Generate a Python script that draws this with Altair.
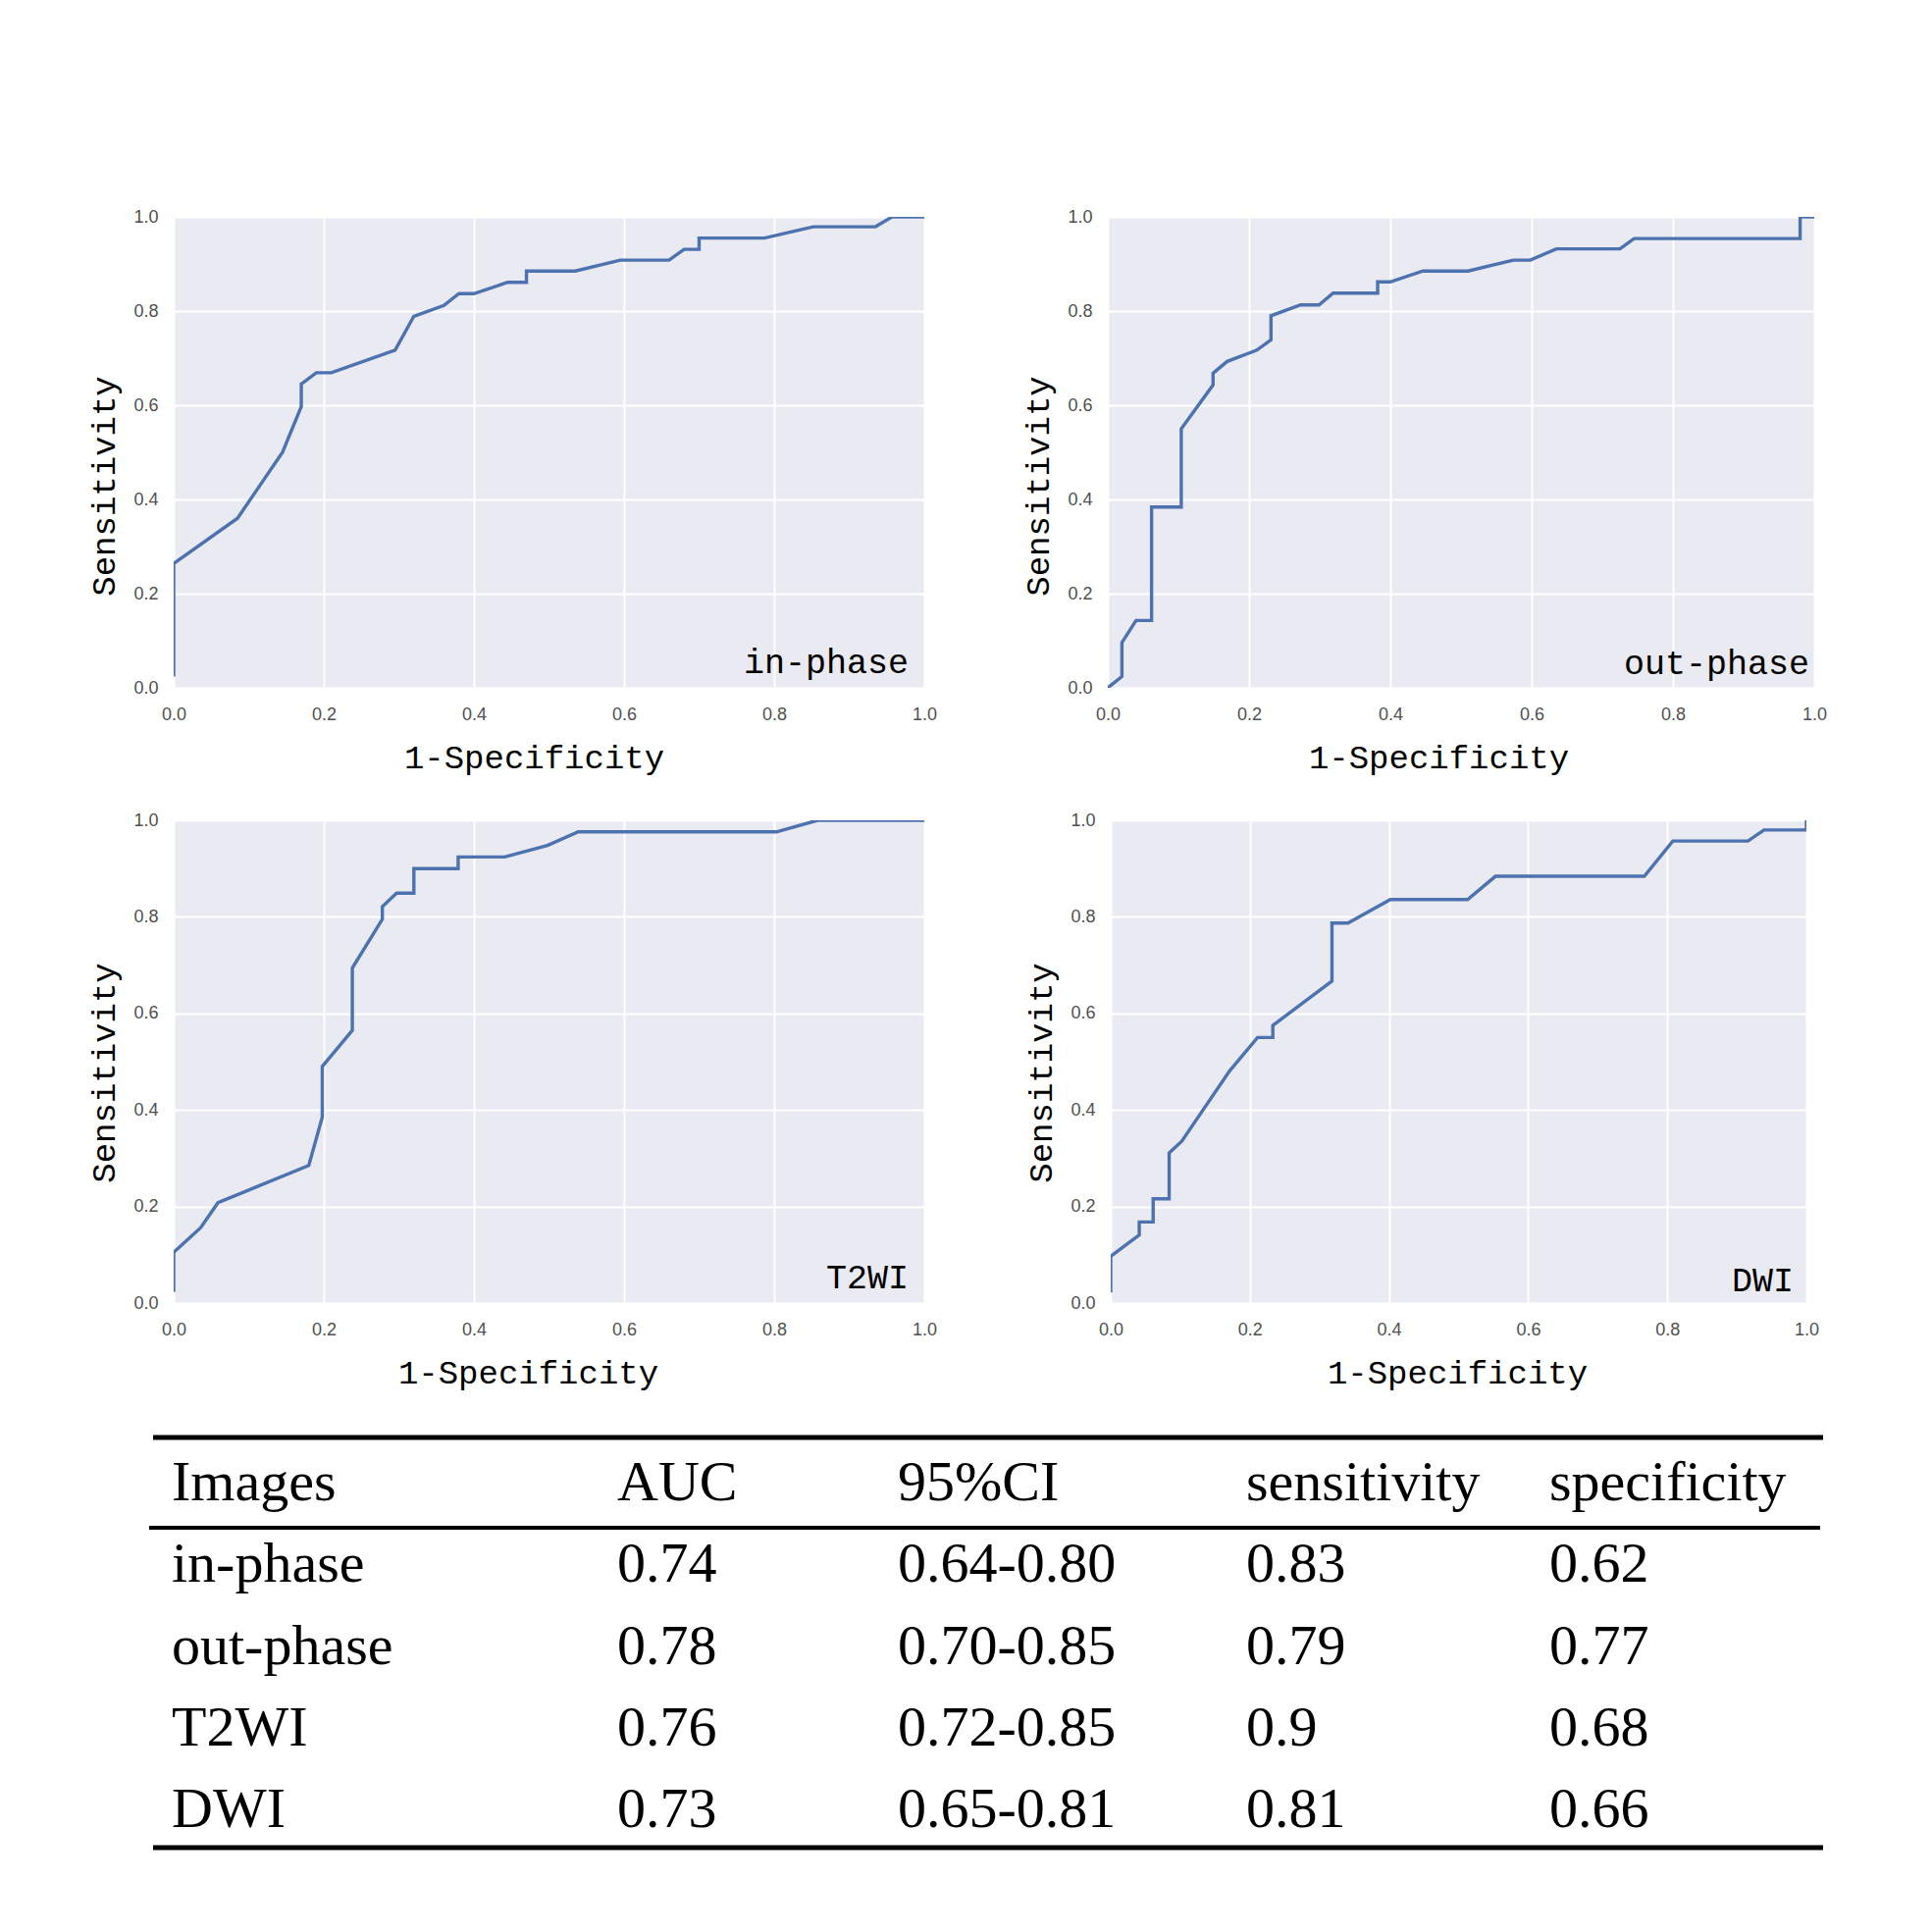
import altair as alt
import pandas as pd

# ---- ROC curve data ----
inphase_x = [0, 0, 0.085, 0.145, 0.17, 0.17, 0.19, 0.21, 0.295, 0.32, 0.36, 0.38, 0.40, 0.445, 0.47, 0.47,
             0.535, 0.595, 0.66, 0.68, 0.70, 0.70, 0.787, 0.852, 0.935, 0.957, 1.0]
inphase_y = [0.024, 0.264, 0.36, 0.50, 0.597, 0.645, 0.669, 0.669, 0.717, 0.789, 0.812, 0.837, 0.837, 0.861,
             0.861, 0.885, 0.885, 0.908, 0.908, 0.931, 0.931, 0.955, 0.955, 0.979, 0.979, 1.0, 1.0]

outphase_x = [0, 0.02, 0.02, 0.04, 0.062, 0.062, 0.104, 0.104, 0.149, 0.149, 0.169, 0.211, 0.231, 0.231, 0.273,
              0.299, 0.319, 0.382, 0.382, 0.40, 0.446, 0.51, 0.574, 0.598, 0.635, 0.725, 0.745, 0.98, 0.98, 1.0]
outphase_y = [0, 0.024, 0.096, 0.143, 0.143, 0.384, 0.384, 0.55, 0.643, 0.668, 0.693, 0.717, 0.739, 0.79, 0.813,
              0.813, 0.838, 0.838, 0.862, 0.862, 0.885, 0.885, 0.908, 0.908, 0.932, 0.932, 0.954, 0.954, 1.0, 1.0]

t2wi_x = [0, 0, 0.036, 0.059, 0.18, 0.198, 0.198, 0.238, 0.238, 0.278, 0.278, 0.297, 0.32, 0.32, 0.379, 0.379,
          0.441, 0.498, 0.539, 0.803, 0.858, 1.0]
t2wi_y = [0.023, 0.105, 0.156, 0.208, 0.285, 0.385, 0.49, 0.565, 0.694, 0.795, 0.821, 0.849, 0.849, 0.90, 0.90,
          0.924, 0.924, 0.948, 0.976, 0.976, 1.0, 1.0]

dwi_x = [0, 0, 0.041, 0.041, 0.061, 0.061, 0.084, 0.084, 0.102, 0.171, 0.211, 0.233, 0.233, 0.318, 0.318, 0.341,
         0.402, 0.513, 0.553, 0.767, 0.808, 0.916, 0.939, 1.0, 1.0]
dwi_y = [0.022, 0.097, 0.141, 0.168, 0.168, 0.216, 0.216, 0.311, 0.335, 0.481, 0.55, 0.55, 0.575, 0.667, 0.787,
         0.787, 0.836, 0.836, 0.884, 0.884, 0.957, 0.957, 0.98, 0.98, 1.0]

panel_names = ["in-phase", "out-phase", "T2WI", "DWI"]
tick_values = [0.0, 0.2, 0.4, 0.6, 0.8, 1.0]

# ---- table data ----
table_headers = ["Images", "AUC", "95%CI", "sensitivity", "specificity"]
tbl_images = ["in-phase", "out-phase", "T2WI", "DWI"]
tbl_auc = ["0.74", "0.78", "0.76", "0.73"]
tbl_ci = ["0.64-0.80", "0.70-0.85", "0.72-0.85", "0.65-0.81"]
tbl_sens = ["0.83", "0.79", "0.9", "0.81"]
tbl_spec = ["0.62", "0.77", "0.68", "0.66"]

LINE_COLOR = "#4C72B0"
TITLE_FONT = "Liberation Mono"


def roc_panel(xs, ys, name, w, h, lab_dx, lab_dy, title_x, title_y):
    df = pd.DataFrame({"i": range(len(xs)), "fpr": xs, "tpr": ys})
    line = alt.Chart(df).mark_line(color=LINE_COLOR, strokeWidth=3.4, clip=True).encode(
        x=alt.X("fpr:Q", scale=alt.Scale(domain=[0, 1], nice=False),
                axis=alt.Axis(title="1-Specificity", values=tick_values, format=".1f",
                              titlePadding=18, labelPadding=18, titleX=title_x)),
        y=alt.Y("tpr:Q", scale=alt.Scale(domain=[0, 1], nice=False),
                axis=alt.Axis(title="Sensitivity", values=tick_values, format=".1f",
                              titlePadding=12, labelPadding=16, titleY=title_y)),
        order="i:Q",
    )
    label = alt.Chart(pd.DataFrame({"name": [name]})).mark_text(
        align="right", baseline="middle", font=TITLE_FONT, fontSize=35, color="black"
    ).encode(text="name:N", x=alt.value(w - lab_dx), y=alt.value(h - lab_dy))
    return alt.layer(line, label).properties(width=w, height=h)


p1 = roc_panel(inphase_x, inphase_y, panel_names[0], 765, 480, 16, 26, 367, 274)
p2 = roc_panel(outphase_x, outphase_y, panel_names[1], 720, 480, 5, 25, 337, 274)
p3 = roc_panel(t2wi_x, t2wi_y, panel_names[2], 765, 492, 16, 26, 361, 257)
p4 = roc_panel(dwi_x, dwi_y, panel_names[3], 709, 492, 13, 23, 353, 257)

row1 = alt.hconcat(p1, p2, spacing=86)
row2 = alt.hconcat(p3, p4, spacing=89)

# ---- table ----
TW, TH = 1681, 427
col_px = [-2, 452, 738, 1093, 1402]
columns = [tbl_images, tbl_auc, tbl_ci, tbl_sens, tbl_spec]
row_scale = alt.Scale(domain=[0, 4], range=[50, 383])

layers = []
for c, hd in enumerate(table_headers):
    cdf = pd.DataFrame({"row": list(range(5)), "text": [hd] + list(columns[c])})
    layers.append(
        alt.Chart(cdf).mark_text(
            align="left", baseline="middle", font="Liberation Serif", fontSize=58, color="black"
        ).encode(
            x=alt.value(col_px[c]),
            y=alt.Y("row:Q", scale=row_scale, axis=None),
            text="text:N",
        )
    )
rule_df = pd.DataFrame({"k": ["top", "mid", "bottom"]})
top_rule = alt.Chart(rule_df.iloc[[0]]).mark_rule(color="black", strokeWidth=5).encode(
    x=alt.value(-21), x2=alt.value(1681), y=alt.value(3))
mid_rule = alt.Chart(rule_df.iloc[[1]]).mark_rule(color="black", strokeWidth=4).encode(
    x=alt.value(-25), x2=alt.value(1678), y=alt.value(95))
bot_rule = alt.Chart(rule_df.iloc[[2]]).mark_rule(color="black", strokeWidth=5).encode(
    x=alt.value(-21), x2=alt.value(1681), y=alt.value(421))
table = alt.layer(*layers, top_rule, mid_rule, bot_rule).properties(
    width=TW, height=TH, view=alt.ViewBackground(fill="white", stroke="transparent")
)

charts = alt.vconcat(alt.vconcat(row1, row2, spacing=38), table, spacing=45)

chart = charts.properties(
    padding={"top": 204, "left": 81, "right": 20, "bottom": 20},
    background="white",
).configure_view(
    fill="#EAEAF2", stroke=None
).configure_axis(
    domain=False, ticks=False, grid=True, gridColor="white", gridWidth=2, labelFlush=False,
    labelFont="Liberation Sans", labelFontSize=18, labelColor="#505050",
    titleFont=TITLE_FONT, titleFontSize=34, titleFontWeight="normal", titleColor="black",
)

chart.save("out.html", embed_options={"renderer": "svg", "actions": False})
